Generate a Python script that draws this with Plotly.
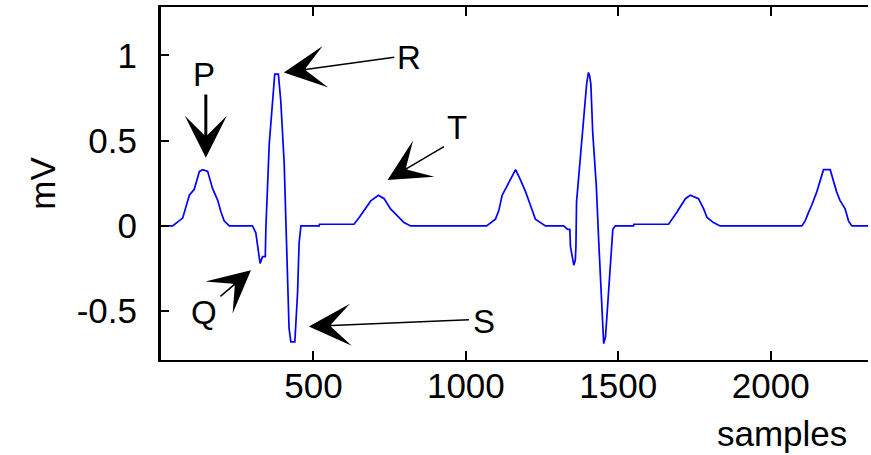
import plotly.graph_objects as go

# ECG trace (sample index, millivolts)
samples = [1, 38, 71, 82, 93, 109, 126, 137, 153, 169, 186, 197, 207, 224,
           300, 311, 317, 325, 333, 342, 344, 349, 355, 366, 373, 385, 393, 404, 409, 415, 420, 426, 439, 448, 453, 459,
           519, 520, 633, 650, 666, 688, 713, 732, 753, 775, 797, 819,
           1068, 1097, 1108, 1119, 1130, 1146, 1163, 1179, 1196, 1212, 1228, 1261,
           1321, 1334, 1341, 1343, 1348, 1354, 1359, 1361, 1363, 1372, 1385, 1396, 1402, 1406, 1410, 1416, 1428, 1436, 1446, 1452, 1458, 1462, 1472, 1482, 1490,
           1550, 1551, 1665, 1692, 1703, 1720, 1736, 1763, 1780, 1791, 1812, 1834,
           2102, 2113, 2124, 2134, 2151, 2162, 2173, 2195, 2205, 2216, 2227, 2244, 2255, 2266, 2320]
mv = [0.0, 0.0, 0.046, 0.12, 0.18, 0.215, 0.32, 0.33, 0.32, 0.22, 0.15, 0.08, 0.03, 0.0,
      0.0, -0.04, -0.12, -0.22, -0.18, -0.18, -0.01, 0.19, 0.48, 0.73, 0.89, 0.89, 0.73, 0.37, 0.06, -0.29, -0.6, -0.68, -0.68, -0.39, -0.1, 0.0,
      0.0, 0.01, 0.01, 0.05, 0.09, 0.147, 0.18, 0.16, 0.10, 0.06, 0.02, 0.0,
      0.0, 0.04, 0.09, 0.18, 0.22, 0.27, 0.33, 0.27, 0.20, 0.12, 0.04, 0.0,
      0.0, -0.02, -0.02, -0.12, -0.18, -0.23, -0.2, -0.12, 0.14, 0.35, 0.6, 0.83, 0.9, 0.88, 0.83, 0.55, 0.23, -0.1, -0.43, -0.69, -0.65, -0.55, -0.24, -0.02, 0.0,
      0.0, 0.01, 0.01, 0.08, 0.11, 0.16, 0.18, 0.16, 0.10, 0.05, 0.02, 0.0,
      0.0, 0.03, 0.08, 0.12, 0.20, 0.27, 0.33, 0.33, 0.27, 0.20, 0.15, 0.10, 0.03, 0.0, 0.0]

x_ticks = [500, 1000, 1500, 2000]
y_ticks = [-0.5, 0, 0.5, 1]
y_tick_text = ["-0.5", "0", "0.5", "1"]

# wave labels: name, text position, arrow tail, arrow tip (samples, mV)
labels = ["P", "Q", "R", "S", "T"]
label_x = [141, 141, 812, 1061, 970]
label_y = [0.89, -0.51, 0.99, -0.56, 0.58]
tail_x = [147, 190, 770, 1015, 933]
tail_y = [0.78, -0.42, 0.99, -0.55, 0.47]
tip_x = [147, 295, 403, 485, 743]
tip_y = [0.40, -0.26, 0.90, -0.59, 0.27]
arrow_w = [3.0, 1.5, 1.5, 1.5, 1.5]

FONT = "Liberation Sans, Arial, sans-serif"

fig = go.Figure()
fig.add_trace(go.Scatter(x=samples, y=mv, mode="lines",
                         line=dict(color="#0000ff", width=1.7), showlegend=False))

annotations = []
for i, lab in enumerate(labels):
    annotations.append(dict(x=label_x[i], y=label_y[i], xref="x", yref="y", text=lab,
                            showarrow=False, font=dict(family=FONT, size=33, color="black")))
    annotations.append(dict(x=tip_x[i], y=tip_y[i], xref="x", yref="y",
                            ax=tail_x[i], ay=tail_y[i], axref="x", ayref="y", text="",
                            showarrow=True, arrowhead=3, arrowwidth=arrow_w[i],
                            arrowsize=7.0 / arrow_w[i], arrowcolor="black"))
annotations.append(dict(x=-0.168, y=0.5, xref="paper", yref="paper", text="mV", textangle=-90,
                        showarrow=False, xanchor="center", yanchor="middle",
                        font=dict(family=FONT, size=35, color="black")))
annotations.append(dict(x=0.878, y=-0.207, xref="paper", yref="paper", text="samples",
                        showarrow=False, xanchor="center", yanchor="middle",
                        font=dict(family=FONT, size=35, color="black")))

fig.update_layout(
    width=871, height=455,
    margin=dict(l=161, r=3, t=7, b=95),
    paper_bgcolor="white", plot_bgcolor="white",
    font=dict(family=FONT, size=35, color="black"),
    annotations=annotations,
    xaxis=dict(range=[0, 2319], tickvals=x_ticks, ticks="inside", ticklen=9, tickwidth=1.5,
               tickcolor="black", showline=True, linecolor="black", linewidth=2, mirror="ticks",
               showgrid=False, zeroline=False, ticklabelstandoff=-6,
               tickfont=dict(family=FONT, size=35, color="black")),
    yaxis=dict(range=[-0.786, 1.284], tickvals=y_ticks, ticktext=y_tick_text, ticks="inside",
               ticklen=8, tickwidth=1.5, tickcolor="black", showline=True, linecolor="black",
               linewidth=3, mirror=False, showgrid=False, zeroline=False, ticklabelstandoff=14,
               tickfont=dict(family=FONT, size=35, color="black")),
)

fig.write_html("out.html", config={"displayModeBar": False},
               post_script="document.body.style.margin='0';document.body.style.overflow='hidden';")
